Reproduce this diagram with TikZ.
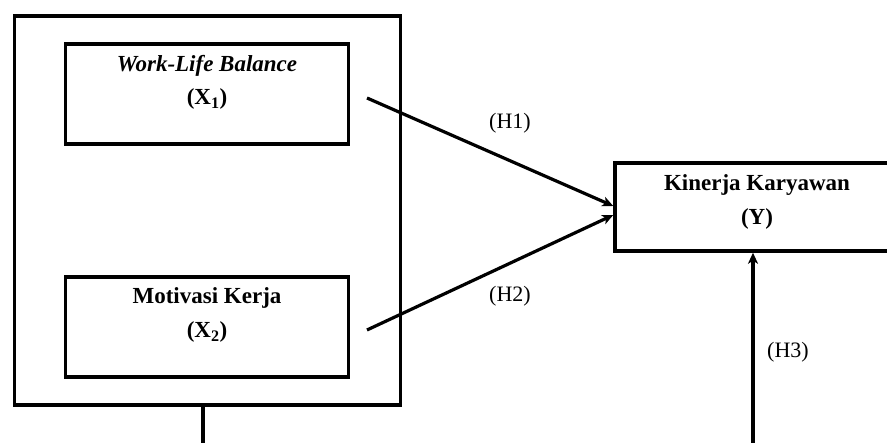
\documentclass[tikz,border=0pt]{standalone}
\usepackage{fontspec}
\setmainfont{Liberation Serif}
\usetikzlibrary{arrows.meta}
\begin{document}
\begin{tikzpicture}[x=1pt,y=-1pt,
  box/.style={draw=black, line width=3.5pt, inner sep=0pt},
  txt/.style={font=\fontsize{23}{27}\selectfont, inner sep=0pt, align=center},
  lab/.style={font=\fontsize{22}{26}\selectfont, inner sep=0pt},
  conn/.style={line width=3.5pt},
  arr/.style={line width=3.2pt, -{Stealth[length=11pt,width=10pt,inset=3pt]}}]
\useasboundingbox (0,0) rectangle (887,443);
\clip (0,0) rectangle (887,443);
% outer box
\node[box, minimum width=386pt, minimum height=389pt] (outer) at (207.5,210.5) {};
% inner boxes
\node[box, minimum width=283pt, minimum height=100pt] (x1) at (207,94) {};
\node[box, minimum width=283pt, minimum height=100pt] (x2) at (207,327) {};
\node[txt] (t1a) at (207,66) {\textbf{\textit{Work-Life Balance}}};
\node[txt] (t1b) at (207,99) {\textbf{(X\textsubscript{1})}};
\node[txt] (t2a) at (207,298) {\textbf{Motivasi Kerja}};
\node[txt] (t2b) at (207,332) {\textbf{(X\textsubscript{2})}};
% Y box
\node[box, minimum width=284pt, minimum height=88pt] (y) at (757,207) {};
\node[txt] (tya) at (757,185) {\textbf{Kinerja Karyawan}};
\node[txt] (tyb) at (757,219) {\textbf{(Y)}};
% connectors
\coordinate (s1) at (367,98);
\coordinate (s2) at (367,330);
\draw[arr] (s1) -- (y.west |- 0,206);
\draw[arr] (s2) -- (y.west |- 0,215);
\coordinate (b1) at (203,443);
\draw[conn] (b1 |- outer.south) -- (b1);
\coordinate (b2) at (753,443);
\draw[arr] (b2) -- (b2 |- y.south);
% labels
\node[lab] (h1) at (510,123) {(H1)};
\node[lab] (h2) at (510,296) {(H2)};
\node[lab] (h3) at (788,352) {(H3)};
\end{tikzpicture}
\end{document}
